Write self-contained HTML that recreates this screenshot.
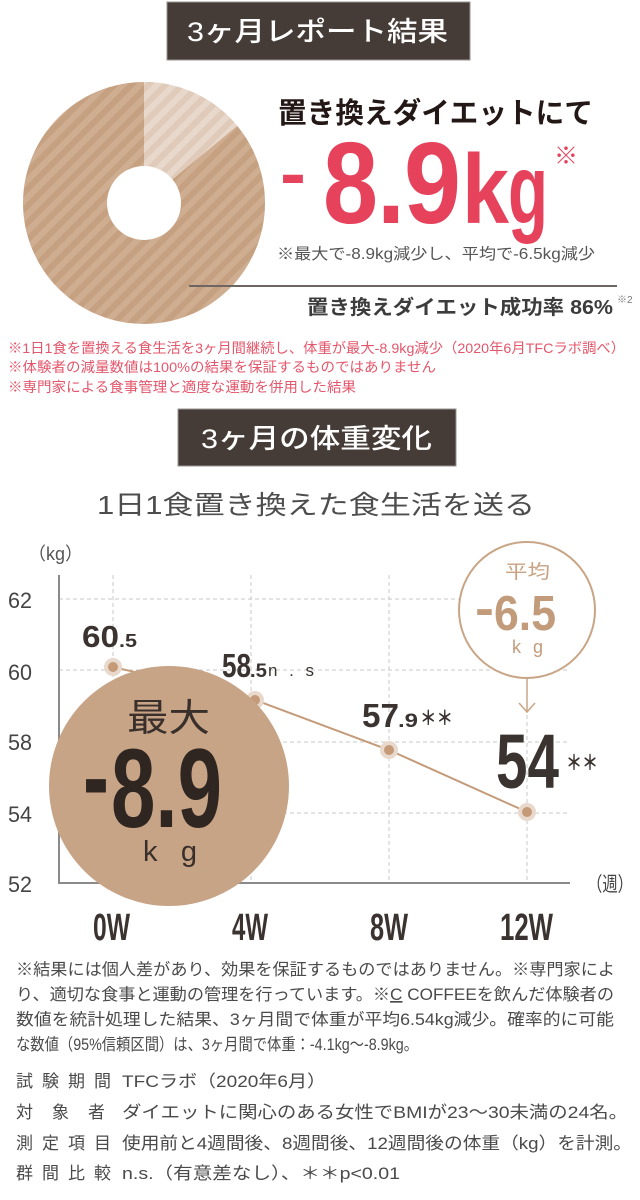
<!DOCTYPE html>
<html>
<head>
<meta charset="utf-8">
<style>
html,body{margin:0;padding:0;background:#fff;width:640px;height:1200px;overflow:hidden}
svg{display:block}
text{font-family:"Liberation Sans","Noto Sans CJK JP",sans-serif}
.n{font-family:"Liberation Sans",sans-serif;font-weight:bold}
</style>
</head>
<body>
<svg width="640" height="1200" viewBox="0 0 640 1200" xmlns="http://www.w3.org/2000/svg">
<defs>
<pattern id="pd" width="12" height="12" patternUnits="userSpaceOnUse" patternTransform="rotate(45)">
<rect width="12" height="12" fill="#c6a181"/>
<rect width="6" height="12" fill="#cfad90"/>
</pattern>
<pattern id="pl" width="12" height="12" patternUnits="userSpaceOnUse" patternTransform="rotate(45)">
<rect width="12" height="12" fill="#e0cbba"/>
<rect width="6" height="12" fill="#e8d8cb"/>
</pattern>
</defs>

<!-- Top box -->
<rect x="167" y="2" width="303" height="58" fill="#463c37" stroke="#9a9592" stroke-width="1"/>
<text x="187" y="41" font-size="27" font-weight="500" fill="#ffffff" textLength="261" lengthAdjust="spacingAndGlyphs">3ヶ月レポート結果</text>

<!-- Donut -->
<circle cx="144" cy="203" r="121" fill="url(#pd)"/>
<path d="M144,203 L144,82 A121,121 0 0 1 237.2,125.9 Z" fill="url(#pl)"/>
<circle cx="144" cy="203" r="37" fill="#ffffff"/>

<!-- Headline -->
<text x="278" y="123" font-size="29" font-weight="bold" fill="#231815" textLength="315" lengthAdjust="spacingAndGlyphs">置き換えダイエットにて</text>

<!-- -8.9kg -->
<text class="n" x="280" y="197" font-size="70" fill="#e6425c" textLength="26" lengthAdjust="spacingAndGlyphs">-</text>
<text class="n" x="323" y="223" font-size="116" fill="#e6425c" textLength="55" lengthAdjust="spacingAndGlyphs">8</text>
<text class="n" x="377" y="223" font-size="116" fill="#e6425c" textLength="28" lengthAdjust="spacingAndGlyphs">.</text>
<text class="n" x="404" y="223" font-size="116" fill="#e6425c" textLength="57" lengthAdjust="spacingAndGlyphs">9</text>
<text class="n" x="462" y="223" font-size="98" fill="#e6425c" textLength="47" lengthAdjust="spacingAndGlyphs">k</text>
<text class="n" x="508" y="223" font-size="98" fill="#e6425c" textLength="40" lengthAdjust="spacingAndGlyphs">g</text>
<text x="554" y="164" font-size="24" fill="#e6425c">※</text>

<text x="277" y="259" font-size="15.5" fill="#555555" textLength="318" lengthAdjust="spacingAndGlyphs">※最大で-8.9kg減少し、平均で-6.5kg減少</text>

<line x1="189" y1="286" x2="617" y2="286" stroke="#6e6663" stroke-width="2"/>
<text x="307" y="314" font-size="20" font-weight="bold" fill="#3c3c3c" textLength="306" lengthAdjust="spacingAndGlyphs">置き換えダイエット成功率 86%</text>
<text x="617" y="303" font-size="10" fill="#777777">※2</text>

<!-- Red notes -->
<text x="8" y="353" font-size="14" fill="#e4566b" textLength="617" lengthAdjust="spacingAndGlyphs">※1日1食を置換える食生活を3ヶ月間継続し、体重が最大-8.9kg減少（2020年6月TFCラボ調べ）</text>
<text x="8" y="372" font-size="14" fill="#e4566b" textLength="428" lengthAdjust="spacingAndGlyphs">※体験者の減量数値は100%の結果を保証するものではありません</text>
<text x="8" y="392" font-size="14" fill="#e4566b" textLength="348" lengthAdjust="spacingAndGlyphs">※専門家による食事管理と適度な運動を併用した結果</text>

<!-- Second box -->
<rect x="178" y="409" width="278" height="57" fill="#463c37" stroke="#9a9592" stroke-width="1"/>
<text x="201" y="448" font-size="27" font-weight="500" fill="#ffffff" textLength="231" lengthAdjust="spacingAndGlyphs">3ヶ月の体重変化</text>

<text x="97" y="514" font-size="26" fill="#4d4d4d" textLength="438" lengthAdjust="spacingAndGlyphs">1日1食置き換えた食生活を送る</text>

<!-- Chart -->
<text x="28" y="560" font-size="18" fill="#555555" textLength="55" lengthAdjust="spacingAndGlyphs">（kg）</text>

<g stroke="#c8c8c8" stroke-width="1" stroke-dasharray="4 3" fill="none">
<line x1="59" y1="599" x2="570" y2="599"/>
<line x1="59" y1="670" x2="570" y2="670"/>
<line x1="59" y1="742" x2="570" y2="742"/>
<line x1="59" y1="813" x2="570" y2="813"/>
<line x1="113" y1="575" x2="113" y2="883"/>
<line x1="251" y1="575" x2="251" y2="883"/>
<line x1="389" y1="575" x2="389" y2="883"/>
<line x1="527" y1="575" x2="527" y2="883"/>
</g>

<line x1="59" y1="575" x2="59" y2="884" stroke="#8a8a8a" stroke-width="2"/>
<line x1="58" y1="883" x2="570" y2="883" stroke="#8a8a8a" stroke-width="2"/>

<g fill="#444444" font-size="22" font-family="Liberation Sans, sans-serif">
<text x="8" y="608" textLength="24" lengthAdjust="spacingAndGlyphs">62</text>
<text x="8" y="680" textLength="24" lengthAdjust="spacingAndGlyphs">60</text>
<text x="8" y="750" textLength="24" lengthAdjust="spacingAndGlyphs">58</text>
<text x="8" y="822" textLength="24" lengthAdjust="spacingAndGlyphs">54</text>
<text x="8" y="892" textLength="24" lengthAdjust="spacingAndGlyphs">52</text>
</g>

<text x="587" y="891" font-size="20" fill="#444444" textLength="46" lengthAdjust="spacingAndGlyphs">（週）</text>

<g fill="#3a3330" font-size="38">
<text class="n" x="93" y="940" textLength="37" lengthAdjust="spacingAndGlyphs">0W</text>
<text class="n" x="232" y="940" textLength="36" lengthAdjust="spacingAndGlyphs">4W</text>
<text class="n" x="370" y="940" textLength="38" lengthAdjust="spacingAndGlyphs">8W</text>
<text class="n" x="500" y="940" textLength="53" lengthAdjust="spacingAndGlyphs">12W</text>
</g>

<!-- series line -->
<polyline points="113,667 255,700 389,750 527,812" fill="none" stroke="#c49a78" stroke-width="2"/>
<g>
<circle cx="113" cy="667" r="9" fill="#e8d9cc"/><circle cx="113" cy="667" r="5" fill="#c49a78"/>
<circle cx="255" cy="700" r="9" fill="#e8d9cc"/><circle cx="255" cy="700" r="5" fill="#c49a78"/>
<circle cx="389" cy="750" r="9" fill="#e8d9cc"/><circle cx="389" cy="750" r="5" fill="#c49a78"/>
<circle cx="527" cy="812" r="9" fill="#e8d9cc"/><circle cx="527" cy="812" r="5" fill="#c49a78"/>
</g>

<!-- data labels -->
<text class="n" x="82" y="647" font-size="31" fill="#3a3330" textLength="37" lengthAdjust="spacingAndGlyphs">60</text>
<text class="n" x="119" y="647" font-size="18" fill="#3a3330" textLength="18" lengthAdjust="spacingAndGlyphs">.5</text>

<text class="n" x="222" y="677" font-size="33" fill="#3a3330" textLength="29" lengthAdjust="spacingAndGlyphs">58</text>
<text class="n" x="250" y="677" font-size="19" fill="#3a3330" textLength="17" lengthAdjust="spacingAndGlyphs">.5</text>
<text x="268" y="676" font-size="17" fill="#3a3330" textLength="46" lengthAdjust="spacing">n.s</text>

<text class="n" x="362" y="727" font-size="33" fill="#3a3330" textLength="37" lengthAdjust="spacingAndGlyphs">57</text>
<text class="n" x="398" y="727" font-size="19" fill="#3a3330" textLength="20" lengthAdjust="spacingAndGlyphs">.9</text>
<text x="420" y="725" font-size="20" font-weight="bold" fill="#3a3330" textLength="33" lengthAdjust="spacingAndGlyphs">＊＊</text>

<text class="n" x="496" y="788" font-size="77" fill="#3a3330" textLength="63" lengthAdjust="spacingAndGlyphs">54</text>
<text x="566" y="770" font-size="21" font-weight="bold" fill="#3a3330" textLength="32" lengthAdjust="spacingAndGlyphs">＊＊</text>

<!-- average circle -->
<circle cx="527" cy="610" r="68" fill="#ffffff" stroke="#c9a585" stroke-width="2"/>
<text x="505" y="578" font-size="19" fill="#c8a283" textLength="45" lengthAdjust="spacingAndGlyphs">平均</text>
<text class="n" x="475" y="625" font-size="49" fill="#c29b7b" textLength="19" lengthAdjust="spacingAndGlyphs">-</text>
<text class="n" x="494" y="630" font-size="49" fill="#c29b7b" textLength="62" lengthAdjust="spacingAndGlyphs">6.5</text>
<text x="512" y="653" font-size="18" fill="#c29b7b" textLength="31" lengthAdjust="spacing">kg</text>
<line x1="527" y1="678" x2="527" y2="712" stroke="#c9a585" stroke-width="1.5"/>
<polyline points="519,703 527,712 535,703" fill="none" stroke="#c9a585" stroke-width="1.5"/>

<!-- big circle -->
<circle cx="169" cy="786" r="120" fill="#c8a487"/>
<text x="127" y="731" font-size="38" fill="#3a302b" textLength="83" lengthAdjust="spacingAndGlyphs">最大</text>
<text class="n" x="83" y="815" font-size="112" fill="#2f2622" textLength="26" lengthAdjust="spacingAndGlyphs">-</text>
<text class="n" x="111" y="827" font-size="112" fill="#2f2622" textLength="111" lengthAdjust="spacingAndGlyphs">8.9</text>
<text x="143" y="861" font-size="29" fill="#3a302b" textLength="54" lengthAdjust="spacing">kg</text>

<!-- bottom paragraph -->
<g font-size="16.5" fill="#4a4a4a">
<text x="16" y="975" textLength="599" lengthAdjust="spacingAndGlyphs">※結果には個人差があり、効果を保証するものではありません。※専門家によ</text>
<text x="16" y="1000" textLength="598" lengthAdjust="spacingAndGlyphs">り、適切な食事と運動の管理を行っています。※<tspan text-decoration="underline">C</tspan> COFFEEを飲んだ体験者の</text>
<text x="16" y="1025" textLength="598" lengthAdjust="spacingAndGlyphs">数値を統計処理した結果、3ヶ月間で体重が平均6.54kg減少。確率的に可能</text>
<text x="16" y="1050" textLength="402" lengthAdjust="spacingAndGlyphs">な数値（95%信頼区間）は、3ヶ月間で体重：-4.1kg〜-8.9kg。</text>
</g>

<g font-size="17" fill="#4a4a4a">
<text x="16" y="1087" textLength="95" lengthAdjust="spacing">試験期間</text>
<text x="122" y="1087" textLength="204" lengthAdjust="spacingAndGlyphs">TFCラボ（2020年6月）</text>
<text x="16" y="1118" textLength="89" lengthAdjust="spacing">対象者</text>
<text x="122" y="1118" textLength="506" lengthAdjust="spacingAndGlyphs">ダイエットに関心のある女性でBMIが23〜30未満の24名。</text>
<text x="16" y="1149" textLength="95" lengthAdjust="spacing">測定項目</text>
<text x="122" y="1149" textLength="510" lengthAdjust="spacingAndGlyphs">使用前と4週間後、8週間後、12週間後の体重（kg）を計測。</text>
<text x="16" y="1179" textLength="95" lengthAdjust="spacing">群間比較</text>
<text x="122" y="1179" textLength="278" lengthAdjust="spacingAndGlyphs">n.s.（有意差なし）、＊＊p&lt;0.01</text>
</g>
</svg>
</body>
</html>
